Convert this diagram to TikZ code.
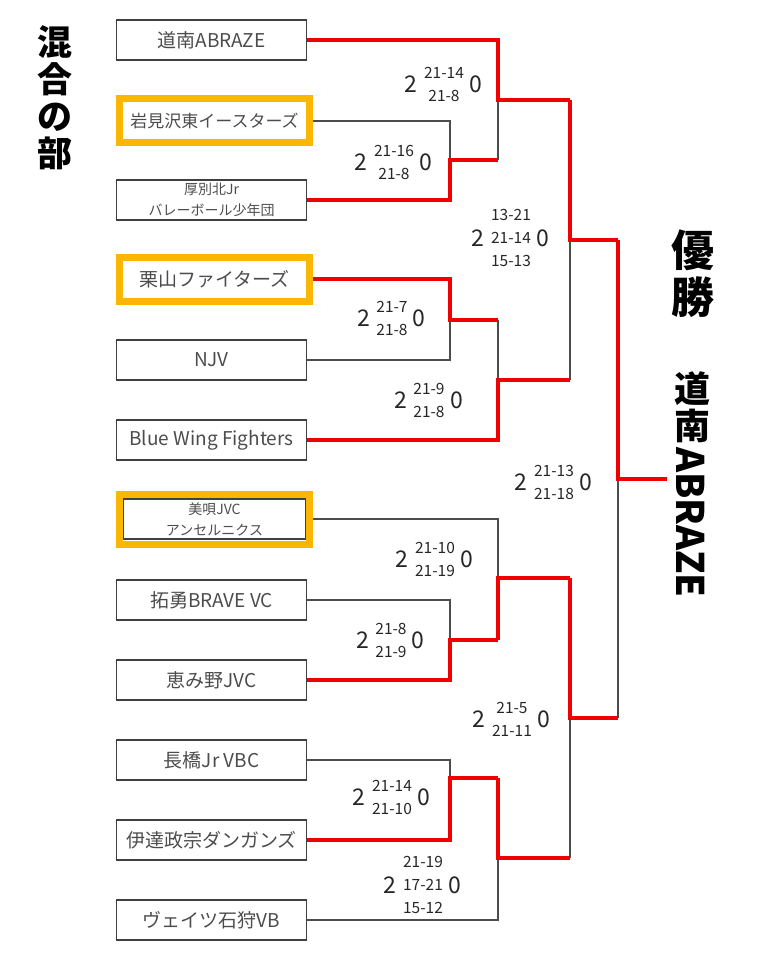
\documentclass[tikz,border=0pt]{standalone}
\usepackage{fontspec}
\usepackage{tikz}
\usetikzlibrary{positioning}
\newfontfamily\jp{Noto Sans CJK JP}
\definecolor{seed}{RGB}{250,182,0}
\definecolor{win}{RGB}{240,0,0}

% 2 - sets - 0
\newcommand\setscore[3]{%
  \node[sets] (#2) at (#1) {#3};
  \node[big, left=6pt of #2] (#2w) {2};
  \node[big, right=5pt of #2] (#2l) {0};}

\begin{document}
\begin{tikzpicture}[x=1pt, y=-1pt,
  team/.style={draw=black!75, line width=1.3pt, minimum width=190pt, minimum height=40pt,
    inner sep=0pt, text=black!70, font=\jp\fontsize{19}{22}\selectfont},
  seeded/.style={team, draw=seed, line width=7pt, minimum height=44pt},
  twoline/.style={align=center, font=\jp\fontsize{14}{21}\selectfont},
  sets/.style={align=center, inner sep=0pt, text=black!85, font=\jp\fontsize{15.5}{23}\selectfont},
  big/.style={inner sep=0pt, text=black!85, font=\jp\fontsize{23}{24}\selectfont},
  thin/.style={draw=black!70, line width=1.2pt},
  red/.style={draw=win, line width=4pt},
  title/.style={align=center, inner sep=0pt, font=\jp\bfseries\fontsize{35}{37}\selectfont}]
  \useasboundingbox (0,0) rectangle (768,960);

  % teams
  \node[team] (abraze) at (211.5,40) {道南ABRAZE};
  \node[seeded, font=\jp\fontsize{17}{20}\selectfont] (iwami) at (214.5,121) {岩見沢東イースターズ};
  \node[team, twoline] (atsubetsu) at (211.5,200) {厚別北Jr\\バレーボール少年団};
  \node[seeded] (kuriyama) at (214.5,279) {栗山ファイターズ};
  \node[team] (njv) at (211.5,360) {NJV};
  \node[team] (blue) at (211.5,440) {Blue Wing Fighters};
  \node[seeded, minimum height=50pt] (bibai) at (214.5,519) {};
  \node[team, twoline, minimum width=182pt] (bibaiin) at (214.5,519) {美唄JVC\\アンセルニクス};
  \node[team] (takuyu) at (211.5,600) {拓勇BRAVE VC};
  \node[team] (eniwa) at (211.5,680) {恵み野JVC};
  \node[team] (nagahashi) at (211.5,760) {長橋Jr VBC};
  \node[team] (date) at (211.5,840) {伊達政宗ダンガンズ};
  \node[team] (veitsu) at (211.5,920) {ヴェイツ石狩VB};

  % bracket points
  \coordinate (wA) at (450,160);
  \coordinate (wB) at (498,100);
  \coordinate (wC) at (450,320);
  \coordinate (wD) at (498,380);
  \coordinate (wE) at (570,240);
  \coordinate (wG) at (450,640);
  \coordinate (wF) at (498,578);
  \coordinate (wH) at (450,778);
  \coordinate (wI) at (498,858);
  \coordinate (wJ) at (570,718);
  \coordinate (champ) at (618,479);
  \coordinate (out) at (667,479);

  % losers
  \draw[thin] (iwami.east) -| (wA);
  \draw[thin] (wA -| wB) -- (wB);
  \draw[thin] (njv.east) -| (wC);
  \draw[thin] (wC -| wD) -- (wD);
  \draw[thin] (wD -| wE) -- (wE);
  \draw[thin] (takuyu.east) -| (wG);
  \draw[thin] (bibai.east) -| (wF);
  \draw[thin] (nagahashi.east) -| (wH);
  \draw[thin] (veitsu.east) -| (wI);
  \draw[thin] (wI -| wJ) -- (wJ);
  \draw[thin] (wJ -| champ) -- (champ);

  % winners
  \draw[red] (atsubetsu.east) -| (wA) -- (wA -| wB);
  \draw[red] (abraze.east) -| (wB) -- (wB -| wE);
  \draw[red] (kuriyama.east) -| (wC) -- (wC -| wD);
  \draw[red] (blue.east) -| (wD) -- (wD -| wE);
  \draw[red] (wB -| wE) -- (wE) -- (wE -| champ);
  \draw[red] (wE -| champ) -- (champ) -- (out);
  \draw[red] (eniwa.east) -| (wG) -- (wG -| wF);
  \draw[red] (wG -| wF) -- (wF) -- (wF -| wJ);
  \draw[red] (date.east) -| (wH) -- (wH -| wI);
  \draw[red] (wH -| wI) -- (wI) -- (wI -| wJ);
  \draw[red] (wF -| wJ) -- (wJ) -- (wJ -| champ);

  % scores
  \setscore{444,84}{sB}{21-14\\21-8}
  \setscore{394,162}{sA}{21-16\\21-8}
  \setscore{511,238}{sE}{13-21\\21-14\\15-13}
  \setscore{392,318}{sC}{21-7\\21-8}
  \setscore{429,400}{sD}{21-9\\21-8}
  \setscore{554,482}{sK}{21-13\\21-18}
  \setscore{435,559}{sF}{21-10\\21-19}
  \setscore{391,640}{sG}{21-8\\21-9}
  \setscore{512,719}{sJ}{21-5\\21-11}
  \setscore{392,797}{sH}{21-14\\21-10}
  \setscore{423,885}{sI}{21-19\\17-21\\15-12}

  % titles
  \node[title] (mixed) at (55,98) {混\\合\\の\\部};
  \node[title, font=\jp\bfseries\fontsize{43}{47}\selectfont] (yusho) at (693,274) {優\\勝};
  \node[title, font=\jp\bfseries\fontsize{36}{37}\selectfont] (champname) at (692,407) {道\\南};
  \node[title, font=\jp\bfseries\fontsize{38}{38}\selectfont, rotate=-90, anchor=west] (champabc) at (691,447) {ABRAZE};
\end{tikzpicture}
\end{document}
